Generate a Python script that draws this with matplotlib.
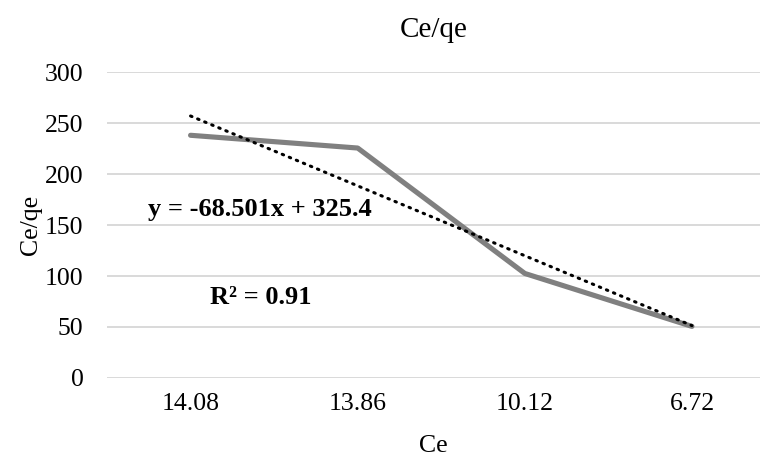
import numpy as np
import matplotlib.pyplot as plt

plt.rcParams["font.family"] = ["Liberation Serif", "DejaVu Serif"]

# data
CE_LABELS = ["14.08", "13.86", "10.12", "6.72"]
CE_QE = [238.0, 225.5, 102.5, 50.6]

EQ_TEXT = "y = -68.501x + 325.4"
R2_TEXT = "R\u00b2 = 0.91"

LINE_COLOR = "#808080"
GRID_COLOR = "#D9D9D9"

x = np.arange(1, len(CE_QE) + 1)
slope, intercept = np.polyfit(x, CE_QE, 1)

fig = plt.figure(figsize=(7.67, 4.59), dpi=100)
ax = fig.add_axes([0.1395, 0.1765, 0.852, 0.6665])

ax.plot(x, CE_QE, color=LINE_COLOR, linewidth=3.7, solid_capstyle="round",
        zorder=3)
ax.plot(x, slope * x + intercept, color="black", linewidth=2.2,
        linestyle=(0, (0.5, 2.0)), dash_capstyle="round", zorder=4)

ax.set_xlim(0.5, 4.41)
ax.set_ylim(0, 300)
ax.set_yticks(range(0, 301, 50))
ax.set_xticks(x)
ax.set_xticklabels(CE_LABELS)
ax.yaxis.grid(True, color=GRID_COLOR, linewidth=1.4)
ax.set_axisbelow(True)
for s in ax.spines.values():
    s.set_visible(False)
ax.tick_params(axis="both", length=0, labelsize=18.5, colors="#000000")
ax.tick_params(axis="y", pad=17)
ax.tick_params(axis="x", pad=11)

ax.set_xlabel("Ce", fontsize=18.5, labelpad=14.5)
ax.set_ylabel("Ce/qe", fontsize=18.5, labelpad=2)
ax.set_title("Ce/qe", fontsize=21, pad=25)

ax.text(148 / 767, 1 - 210 / 459, EQ_TEXT, transform=fig.transFigure,
        fontsize=19, fontweight="bold", ha="left", va="center")
ax.text(210 / 767, 1 - 298 / 459, R2_TEXT, transform=fig.transFigure,
        fontsize=19, fontweight="bold", ha="left", va="center")

fig.savefig("out.png", dpi=100)
